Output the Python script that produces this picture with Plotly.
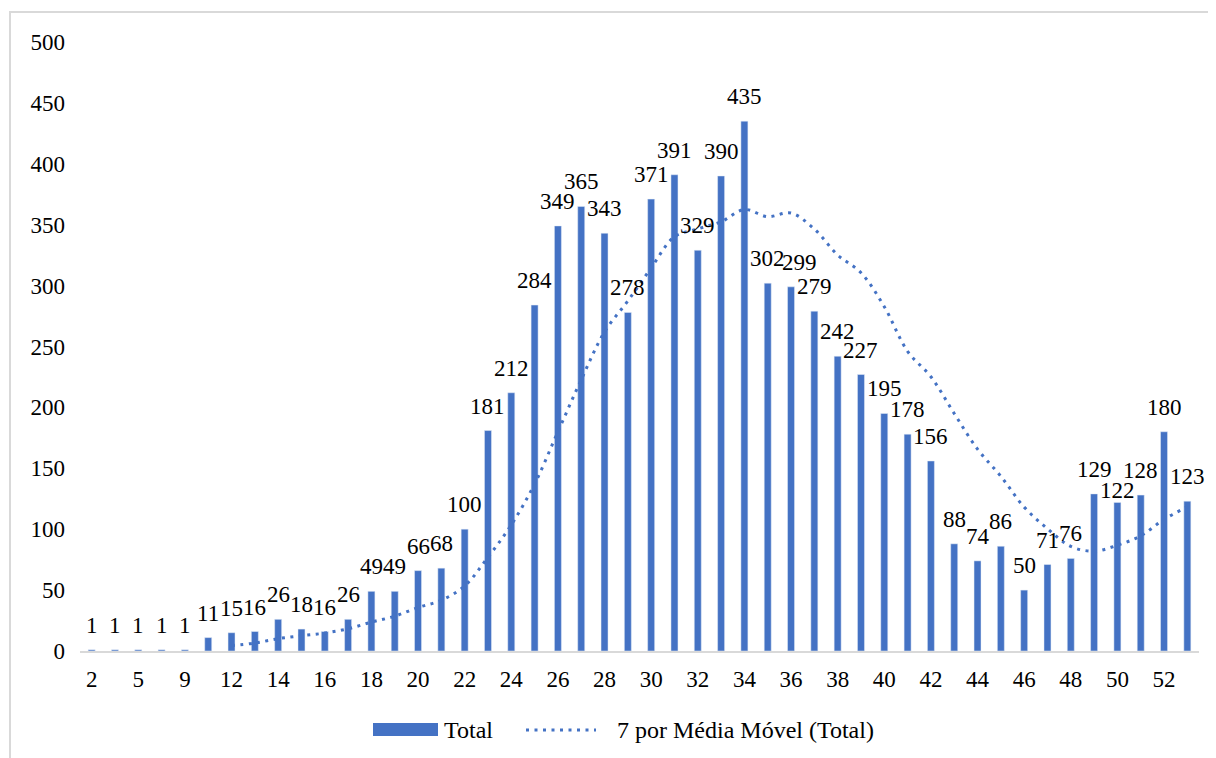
import plotly.graph_objects as go
import pandas as pd

weeks = ["2", "4", "5", "7", "9", "11", "12", "13", "14", "15", "16", "17", "18", "19", "20",
         "21", "22", "23", "24", "25", "26", "27", "28", "29", "30", "31", "32", "33", "34",
         "35", "36", "37", "38", "39", "40", "41", "42", "43", "44", "45", "46", "47", "48",
         "49", "50", "51", "52", "53"]
totals = [1, 1, 1, 1, 1, 11, 15, 16, 26, 18, 16, 26, 49, 49, 66, 68, 100, 181, 212, 284,
          349, 365, 343, 278, 371, 391, 329, 390, 435, 302, 299, 279, 242, 227, 195, 178,
          156, 88, 74, 86, 50, 71, 76, 129, 122, 128, 180, 123]
tick_labels = weeks[::2]

# Trendline: 7-period moving average of the totals (as Excel computes it)
moving_avg = pd.Series(totals).rolling(7).mean().tolist()

BLUE = "#4472C4"
FONT = "Liberation Serif, Times New Roman, serif"
OFF = 8  # page body margin
W, H = 1216 - OFF, 758 - OFF
L, R, T, B = 72, 17, 34, 107
PW, PH = W - L - R, H - T - B

# small label nudges (pixels) as placed in the original chart: week -> (dx, dy)
label_nudge = {"36": (8, 10), "50": (0, -3)}

def px(xp):
    xp -= OFF
    return (xp - L) / PW

def py(yp):
    yp -= OFF
    return (H - B - yp) / PH

fig = go.Figure()
fig.add_trace(go.Bar(
    x=weeks, y=totals, name="Total", marker_color=BLUE,
    showlegend=False,
))
fig.add_trace(go.Scatter(
    x=weeks, y=moving_avg, mode="lines", name="7 por Média Móvel (Total)",
    line=dict(color=BLUE, width=3, dash="3px,5.5px", shape="spline"),
    showlegend=False, connectgaps=False,
))

shapes = [
    dict(type="rect", xref="paper", yref="paper", x0=px(10), x1=px(1215), y0=py(12), y1=py(790),
         line=dict(color="#d9d9d9", width=2), fillcolor="rgba(0,0,0,0)", layer="below"),
    dict(type="rect", xref="paper", yref="paper", x0=px(373), x1=px(438), y0=py(723), y1=py(736),
         line=dict(width=0), fillcolor=BLUE),
    dict(type="line", xref="paper", yref="paper", x0=px(526), x1=px(596), y0=py(730), y1=py(730),
         line=dict(color=BLUE, width=3, dash="3px,5.5px")),
]
annotations = [
    dict(text="Total", xref="paper", yref="paper", x=px(442), y=py(730), xanchor="left",
         yanchor="middle", showarrow=False, font=dict(size=24, color="black", family=FONT)),
    dict(text="7 por Média Móvel (Total)", xref="paper", yref="paper", x=px(615), y=py(730),
         xanchor="left", yanchor="middle", showarrow=False,
         font=dict(size=24, color="black", family=FONT)),
]
# data labels above bars (x given as category position)
for i, (wk, v) in enumerate(zip(weeks, totals)):
    dx, dy = label_nudge.get(wk, (0, 10))
    annotations.append(dict(
        x=i, y=v, xref="x", yref="y", text=str(v), showarrow=False,
        xanchor="center", yanchor="bottom", xshift=dx, yshift=dy,
        font=dict(size=23, color="black", family=FONT),
    ))

fig.update_layout(
    width=W, height=H, margin=dict(l=L, r=R, t=T, b=B, autoexpand=False),
    paper_bgcolor="white", plot_bgcolor="white",
    font=dict(family=FONT, size=23, color="black"),
    bargap=0.7, showlegend=False,
    shapes=shapes, annotations=annotations,
)
fig.update_xaxes(
    type="category", categoryorder="array", categoryarray=weeks,
    range=[-0.5, len(weeks) - 0.5],
    tickmode="array", tickvals=tick_labels, ticktext=tick_labels,
    showline=True, linecolor="#d9d9d9", linewidth=2, showgrid=False, ticks="",
    tickfont=dict(size=23, family=FONT, color="black"), ticklabelstandoff=6,
)
fig.update_yaxes(
    range=[0, 500], dtick=50, showgrid=False, zeroline=False, showline=False, ticks="",
    tickfont=dict(size=23, family=FONT, color="black"), ticklabelstandoff=14,
)

fig.write_html("out.html")
